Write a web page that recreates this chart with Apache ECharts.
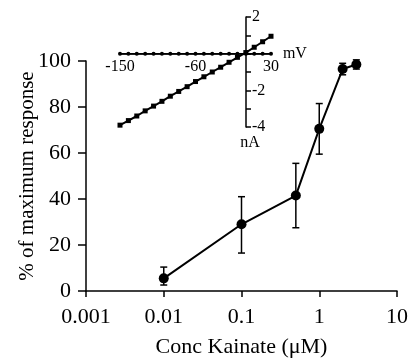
<!DOCTYPE html>
<html>
<head>
<meta charset="utf-8">
<script src="https://cdn.jsdelivr.net/npm/echarts@6/dist/echarts.min.js"></script>
<style>
  html, body { margin: 0; padding: 0; background: #fff; }
  #chart { width: 411px; height: 358px; }
</style>
</head>
<body>
<div id="chart"></div>
<script>
// dose response (main plot)
var conc = [0.01, 0.1, 0.5, 1, 2, 3];
var response = [5.5, 29, 41.5, 70.5, 96.5, 98.5];
var errLow = [2.6, 16.5, 27.5, 59.5, 94, 96.5];
var errHigh = [10.4, 41, 55.5, 81.5, 99, 100.5];

// inset I-V curves
var voltage = [-150, -140, -130, -120, -110, -100, -90, -80, -70, -60, -50, -40, -30, -20, -10, 0, 10, 20, 30];
var currentKainate = [-3.9, -3.65, -3.4, -3.12, -2.86, -2.6, -2.32, -2.06, -1.8, -1.52, -1.26, -1.0, -0.74, -0.47, -0.2, 0.06, 0.35, 0.65, 0.95];
var currentControl = [0, 0, 0, 0, 0, 0, 0, 0, 0, 0, 0, 0, 0, 0, 0, 0, 0, 0, 0];
var insetXLabels = [-150, -60, 30];
var insetYLabels = [2, -2, -4];

var font = 'Liberation Serif';
var black = '#000';

// inset grid box (x: -150..30 mV, y: -4..2 nA)
var inLeft = 120, inTop = 17, inWidth = 151, inHeight = 110;
// shift the inset axes so they cross at 0 mV / 0 nA
var inYOffset = -Math.round(inWidth * 150 / 180);
var inXOffset = -Math.round(inHeight * 4 / 6);

var mainData = conc.map(function (c, i) { return [c, response[i]]; });
var errData = conc.map(function (c, i) { return [c, errLow[i], errHigh[i]]; });

var myChart = echarts.init(document.getElementById('chart'));
var option = {
    backgroundColor: '#fff',
    animation: false,
    textStyle: { fontFamily: font, color: black },
    grid: [
        { left: 86, top: 61, width: 311, height: 230, outerBoundsMode: 'none', containLabel: false },
        { left: inLeft, top: inTop, width: inWidth, height: inHeight, outerBoundsMode: 'none', containLabel: false }
    ],
    xAxis: [
        {
            gridIndex: 0,
            type: 'log',
            logBase: 10,
            min: 0.001,
            max: 10,
            name: 'Conc Kainate (\u03bcM)',
            nameLocation: 'middle',
            nameGap: 45,
            nameTextStyle: { fontFamily: font, fontSize: 22, color: black },
            axisLine: { lineStyle: { color: black, width: 1.5 } },
            axisTick: { length: 6, lineStyle: { color: black, width: 1.5 } },
            minorTick: { show: false },
            splitLine: { show: false },
            axisLabel: {
                fontFamily: font, fontSize: 22, color: black, margin: 15,
                formatter: function (v) { return String(+v.toPrecision(3)); }
            }
        },
        {
            gridIndex: 1,
            type: 'value',
            min: -150,
            max: 30,
            interval: 30,
            position: 'bottom',
            offset: inXOffset,
            name: 'mV',
            nameLocation: 'end',
            nameGap: 4,
            nameTextStyle: { fontFamily: font, fontSize: 16, color: black },
            axisLine: { onZero: false, lineStyle: { color: black, width: 1.5 } },
            axisTick: { show: false },
            splitLine: { show: false },
            axisLabel: {
                fontFamily: font, fontSize: 16, color: black, margin: 5,
                formatter: function (v) { return insetXLabels.indexOf(v) >= 0 ? String(v) : ''; }
            }
        }
    ],
    yAxis: [
        {
            gridIndex: 0,
            type: 'value',
            min: 0,
            max: 100,
            interval: 20,
            name: '% of maximum response',
            nameLocation: 'middle',
            nameGap: 48,
            nameMoveOverlap: false,
            nameTextStyle: { fontFamily: font, fontSize: 21, color: black },
            axisLine: { lineStyle: { color: black, width: 1.5 } },
            axisTick: { length: 8, lineStyle: { color: black, width: 1.5 } },
            splitLine: { show: false },
            axisLabel: { fontFamily: font, fontSize: 22, color: black, margin: 15 }
        },
        {
            gridIndex: 1,
            type: 'value',
            min: -4,
            max: 2,
            interval: 1,
            position: 'left',
            offset: inYOffset,
            name: 'nA',
            nameLocation: 'start',
            nameGap: 1,
            nameTextStyle: { fontFamily: font, fontSize: 16, color: black, padding: [0, 0, 0, 8] },
            axisLine: { onZero: false, lineStyle: { color: black, width: 1.5 } },
            axisTick: { inside: true, length: 5, lineStyle: { color: black, width: 1.5 } },
            splitLine: { show: false },
            axisLabel: {
                inside: true, fontFamily: font, fontSize: 16, color: black, margin: 6,
                formatter: function (v) { return insetYLabels.indexOf(v) >= 0 ? String(v) : ''; }
            }
        }
    ],
    series: [
        {
            type: 'custom',
            xAxisIndex: 0,
            yAxisIndex: 0,
            data: errData,
            z: 3,
            renderItem: function (params, api) {
                var lo = api.coord([api.value(0), api.value(1)]);
                var hi = api.coord([api.value(0), api.value(2)]);
                var w = 3.5;
                var st = { stroke: black, lineWidth: 1.5 };
                return {
                    type: 'group',
                    children: [
                        { type: 'line', shape: { x1: lo[0], y1: lo[1], x2: hi[0], y2: hi[1] }, style: st },
                        { type: 'line', shape: { x1: lo[0] - w, y1: lo[1], x2: lo[0] + w, y2: lo[1] }, style: st },
                        { type: 'line', shape: { x1: hi[0] - w, y1: hi[1], x2: hi[0] + w, y2: hi[1] }, style: st }
                    ]
                };
            }
        },
        {
            type: 'line',
            xAxisIndex: 0,
            yAxisIndex: 0,
            data: mainData,
            symbol: 'circle',
            symbolSize: 10,
            z: 4,
            lineStyle: { color: black, width: 2 },
            itemStyle: { color: black }
        },
        {
            type: 'line',
            xAxisIndex: 1,
            yAxisIndex: 1,
            data: voltage.map(function (v, i) { return [v, currentControl[i]]; }),
            symbol: 'circle',
            symbolSize: 4,
            lineStyle: { color: black, width: 1.5 },
            itemStyle: { color: black }
        },
        {
            type: 'line',
            xAxisIndex: 1,
            yAxisIndex: 1,
            data: voltage.map(function (v, i) { return [v, currentKainate[i]]; }),
            symbol: 'rect',
            symbolSize: 5,
            lineStyle: { color: black, width: 2 },
            itemStyle: { color: black }
        }
    ]
};
myChart.setOption(option);
</script>
</body>
</html>
